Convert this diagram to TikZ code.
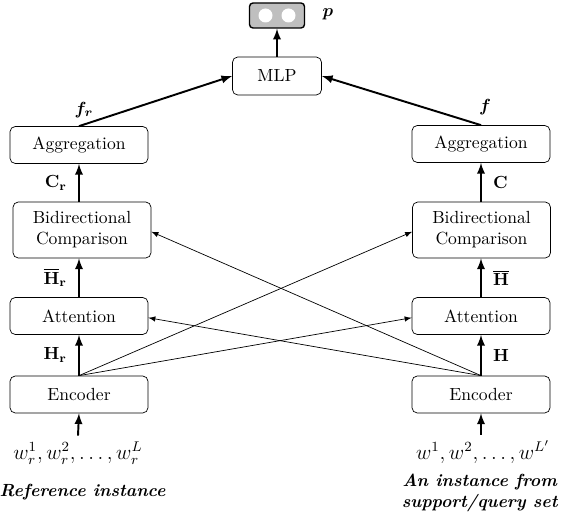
\documentclass[tikz,border=0pt]{standalone}
\usepackage{amsmath}
\usepackage{bm}
\usepackage{tikz}
\usetikzlibrary{positioning}
\tikzset{
  >=latex,
}
\tikzstyle{block}=[draw,rounded corners=3pt,minimum width=2.76cm,minimum height=0.74cm,align=center,inner sep=1pt]
\tikzstyle{flow}=[line width=1.1pt,->]
\tikzstyle{cross}=[thin,->]
\tikzstyle{every node}=[font=\normalsize]

\begin{document}
\begin{tikzpicture}
        \useasboundingbox (0,0) rectangle (11.28,10.48);
        % reference side
        \node[block] (encl) at (1.58,2.59) {Encoder};
        \node[block] (attl) at (1.58,4.16) {Attention};
        \node[block,minimum height=1.12cm] (cmpl) at (1.64,5.88) {Bidirectional\\Comparison};
        \node[block] (aggl) at (1.58,7.58) {Aggregation};
        \node[font=\large] (inl) at (1.56,1.42) {$w_r^1,w_r^2,\ldots,w_r^L$};
        \node (capl) at (1.65,0.64) {\textbf{\textit{Reference instance}}};
        % support/query side
        \node[block] (encr) at (9.62,2.59) {Encoder};
        \node[block] (attr) at (9.62,4.16) {Attention};
        \node[block,minimum height=1.12cm] (cmpr) at (9.63,5.88) {Bidirectional\\Comparison};
        \node[block] (aggr) at (9.62,7.6) {Aggregation};
        \node[font=\large] (inr) at (9.66,1.44) {$w^1,w^2,\ldots,w^{L'}$};
        \node[align=center] (capr) at (9.6,0.62) {\textbf{\textit{An instance from}}\\[0pt]\textbf{\textit{support/query set}}};
        % top
        \node[block,minimum width=1.78cm,minimum height=0.76cm] (mlp) at (5.54,8.96) {MLP};
        \node[draw,thick,fill=black!25,rounded corners=2pt,minimum width=1.1cm,minimum height=0.5cm] (out) at (5.54,10.17) {};
        \fill[white] ([xshift=-0.23cm]out.center) circle (0.14);
        \fill[white] ([xshift=0.23cm]out.center) circle (0.14);
        \node (p) at (6.56,10.19) {$\bm p$};

        \draw[flow] (inl.north) -- (encl.south);
        \draw[flow] (encl.north) -- node[left=3pt]{$\mathbf{H}_\mathbf{r}$} (attl.south);
        \draw[flow] (attl.north) -- node[left=3pt]{$\overline{\mathbf{H}}_\mathbf{r}$} (cmpl.south -| attl.north);
        \draw[flow] (cmpl.north -| attl.north) -- node[left=3pt]{$\mathbf{C}_\mathbf{r}$} (aggl.south);
        \draw[flow] (inr.north -| encr.south) -- (encr.south);
        \draw[flow] (encr.north) -- node[right=3pt]{$\mathbf{H}$} (attr.south);
        \draw[flow] (attr.north) -- node[right=3pt]{$\overline{\mathbf{H}}$} (cmpr.south -| attr.north);
        \draw[flow] (cmpr.north -| attr.north) -- node[right=3pt]{$\mathbf{C}$} (aggr.south);
        \draw[cross] (encl.north) -- ([yshift=-1pt]attr.west);
        \draw[cross] (encl.north) -- ([yshift=-1pt]cmpr.west);
        \draw[cross] (encr.north) -- ([yshift=-1pt]attl.east);
        \draw[cross] (encr.north) -- ([yshift=-1pt]cmpl.east);
        \draw[flow] (aggl.north) -- (mlp.west);
        \draw[flow] (aggr.north) -- (mlp.east);
        \draw[flow] (mlp.north) -- (out.south);
        \node[above=0.05cm of aggl.north,xshift=0.1cm] (fr) {$\bm{f_r}$};
        \node[above=0.08cm of aggr.north,xshift=0.08cm] (f) {$\bm f$};
      \end{tikzpicture}
\end{document}
